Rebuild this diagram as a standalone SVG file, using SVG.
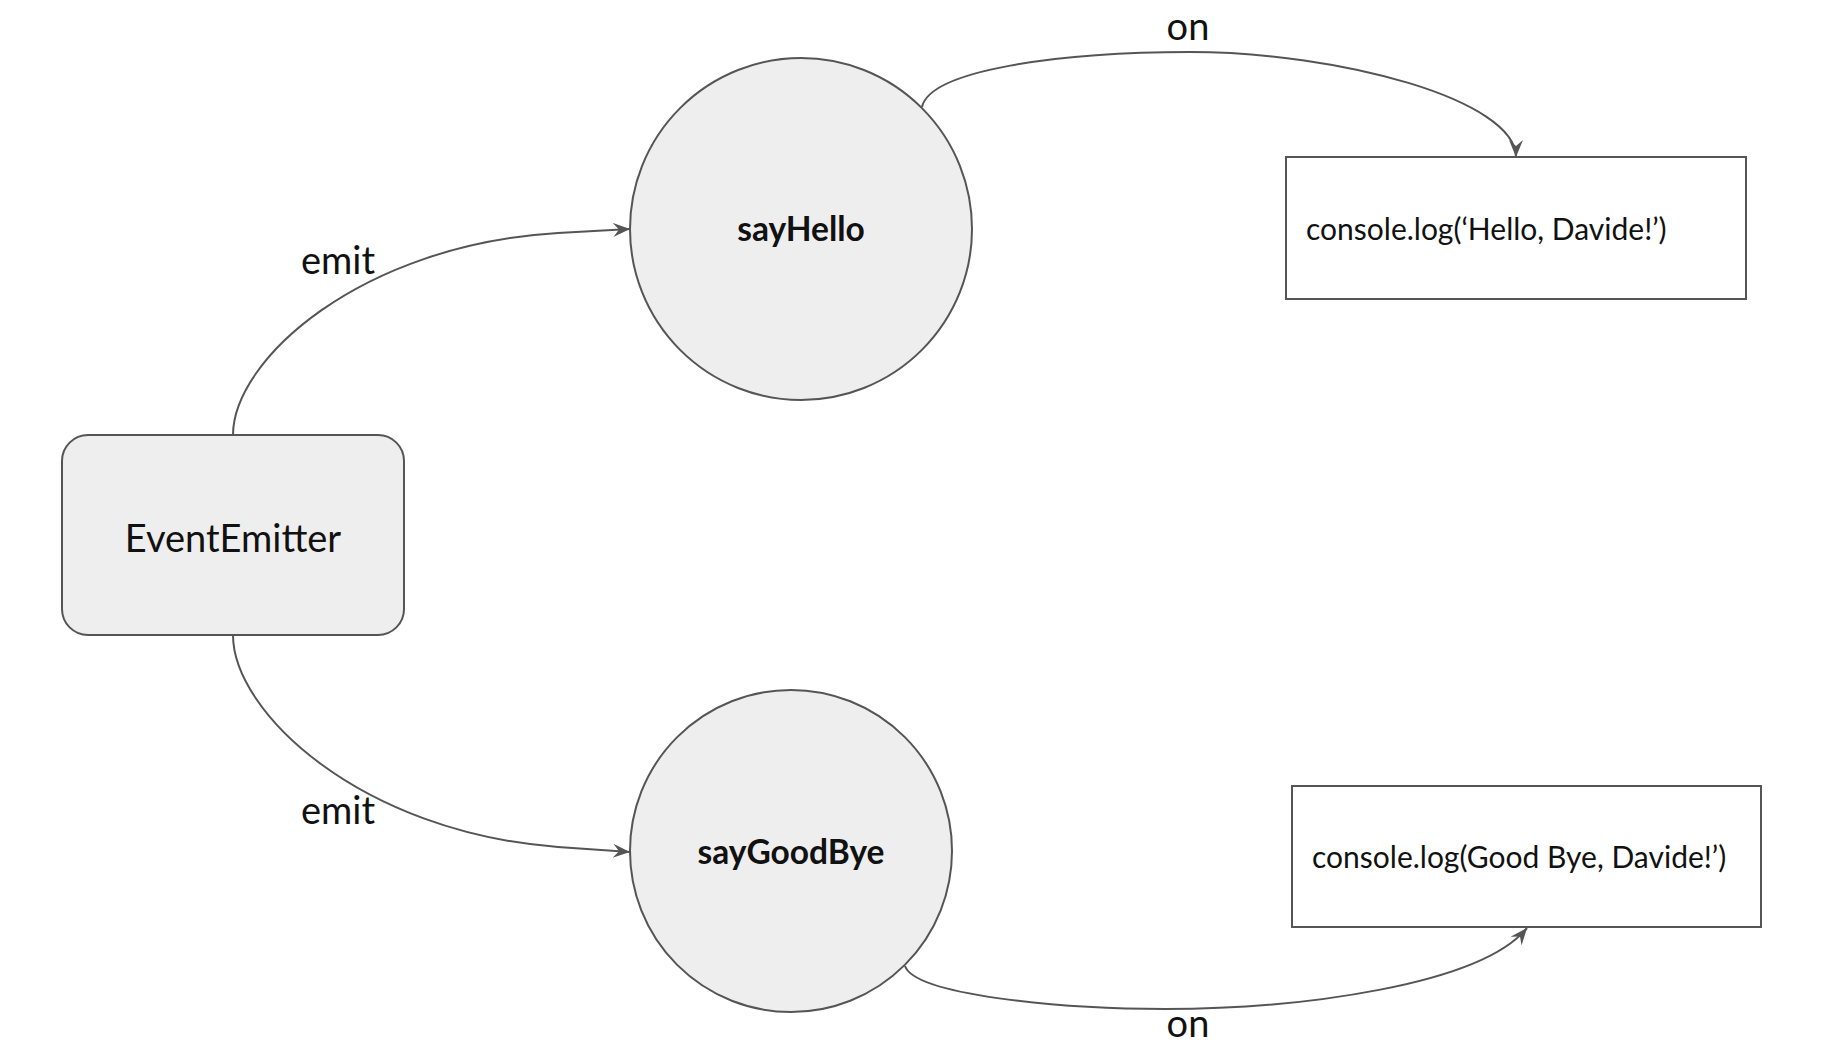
<svg xmlns="http://www.w3.org/2000/svg" width="1821" height="1044" viewBox="0 0 1821 1044">
<style>
.bg{fill:#ffffff}
.node{fill:#eeeeee;stroke:#555555;stroke-width:2}
.box{fill:#ffffff;stroke:#555555;stroke-width:2}
.edge{fill:none;stroke:#555555;stroke-width:2}
.lbl{font-family:"Lato","Noto Sans",sans-serif;font-size:38px;fill:#111111}
.ev{font-family:"Lato","Noto Sans",sans-serif;font-size:33.5px;font-weight:bold;fill:#111111}
.code{font-family:"Lato","Noto Sans",sans-serif;font-size:30px;fill:#111111}
</style>
<defs>
<marker id="arr" markerUnits="userSpaceOnUse" markerWidth="19" markerHeight="16" refX="17" refY="7" orient="auto">
<path d="M0,0 L17,7 L0,14 L6,7 z" fill="#555555"/>
</marker>
</defs>
<rect class="bg" x="0" y="0" width="1821" height="1044"/>
<g id="connectors">
<path class="edge" d="M233,435 C233,360 360,245 558,233 L630,229" marker-end="url(#arr)"/>
<path class="edge" d="M233,635 C233,712 360,832 558,847 L630,852" marker-end="url(#arr)"/>
<path class="edge" d="M922,107 C930,70 1060,52 1190,52 C1340,52 1516,100 1516,157" marker-end="url(#arr)"/>
<path class="edge" d="M905,966 C915,995 1060,1009 1165,1009 C1300,1009 1480,985 1527,928" marker-end="url(#arr)"/>
<text class="lbl" x="338" y="274" text-anchor="middle">emit</text>
<text class="lbl" x="338" y="824" text-anchor="middle">emit</text>
<text class="lbl" x="1188" y="40" text-anchor="middle">on</text>
<text class="lbl" x="1188" y="1037" text-anchor="middle">on</text>
</g>
<g id="EventEmitter">
<rect class="node" x="62" y="435" width="342" height="200" rx="26" ry="26"/>
<text class="lbl" x="233" y="552" text-anchor="middle">EventEmitter</text>
</g>
<g id="sayHello">
<circle class="node" cx="801" cy="229" r="171"/>
<text class="ev" x="801" y="241" text-anchor="middle">sayHello</text>
</g>
<g id="sayGoodBye">
<circle class="node" cx="791" cy="851" r="161"/>
<text class="ev" x="791" y="864" text-anchor="middle">sayGoodBye</text>
</g>
<g id="logHello">
<rect class="box" x="1286" y="157" width="460" height="142"/>
<text class="code" x="1306" y="240">console.log(‘Hello, Davide!’)</text>
</g>
<g id="logGoodBye">
<rect class="box" x="1292" y="786" width="469" height="141"/>
<text class="code" x="1312" y="868">console.log(Good Bye, Davide!’)</text>
</g>
</svg>
